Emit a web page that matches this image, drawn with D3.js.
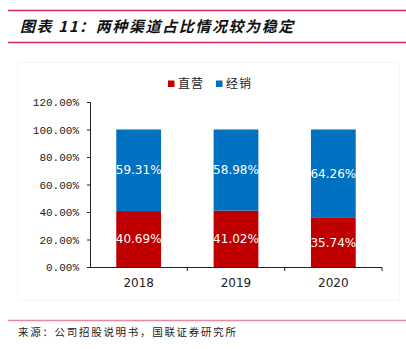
<!DOCTYPE html>
<html>
<head>
<meta charset="utf-8">
<script src="https://cdn.jsdelivr.net/npm/d3@7"></script>
<style>
  body { margin: 0; background: #fff; }
  svg text { font-family: "Noto Sans CJK SC", "DejaVu Sans", sans-serif; }
</style>
</head>
<body>
<div id="chart"></div>
<script>
// channel share by year
const years = ["2018", "2019", "2020"];
const direct = [40.69, 41.02, 35.74];
const dealer = [59.31, 58.98, 64.26];
const seriesNames = ["直营", "经销"];
const seriesColors = ["#C00000", "#0070C0"];
const yTicks = [0, 20, 40, 60, 80, 100, 120];

const W = 406, H = 349;
const svg = d3.select("#chart").append("svg")
    .attr("width", W).attr("height", H);

// header rules and title
svg.append("line").attr("x1", 8).attr("x2", W).attr("y1", 10.5).attr("y2", 10.5)
    .attr("stroke", "#D4245A").attr("stroke-width", 1.3);
svg.append("line").attr("x1", 8).attr("x2", W).attr("y1", 42.5).attr("y2", 42.5)
    .attr("stroke", "#D4245A").attr("stroke-width", 1.3);
svg.append("text")
    .attr("x", 20).attr("y", 31.5)
    .attr("font-size", 15).attr("font-weight", "bold").attr("font-style", "italic")
    .attr("fill", "#111")
    .style("letter-spacing", "1.6px")
    .text("图表 11：两种渠道占比情况较为稳定");

// faint chart frame
svg.append("rect").attr("x", 17.5).attr("y", 62.5).attr("width", 382).attr("height", 238)
    .attr("fill", "none").attr("stroke", "#f6f6f6");

const margin = {left: 90, right: 24, top: 102, bottom: 82};
const x = d3.scaleBand().domain(years).range([margin.left, W - margin.right]).paddingInner(0.54).paddingOuter(0.27);
const xOuter = d3.scaleBand().domain(years).range([margin.left, W - margin.right]);
const y = d3.scaleLinear().domain([0, 120]).range([H - margin.bottom, margin.top]);

const stacked = years.map((yr, i) => {
    return [
        {key: 0, y0: 0, y1: direct[i], year: yr},
        {key: 1, y0: direct[i], y1: direct[i] + dealer[i], year: yr}
    ];
}).flat();

svg.selectAll("rect.bar")
    .data(stacked)
    .enter().append("rect")
    .attr("class", "bar")
    .attr("x", d => x(d.year))
    .attr("width", x.bandwidth())
    .attr("y", d => y(d.y1))
    .attr("height", d => y(d.y0) - y(d.y1))
    .attr("fill", d => seriesColors[d.key]);

svg.selectAll("text.val")
    .data(stacked)
    .enter().append("text")
    .attr("class", "val")
    .attr("x", d => x(d.year) + x.bandwidth() / 2)
    .attr("y", d => y((d.y0 + d.y1) / 2))
    .attr("dy", "0.35em")
    .attr("text-anchor", "middle")
    .attr("font-size", 12)
    .attr("fill", "#fff")
    .style("font-family", "DejaVu Sans, sans-serif")
    .text(d => (d.y1 - d.y0).toFixed(2) + "%");

// y axis
const yAxis = d3.axisLeft(y).tickValues(yTicks).tickSize(3).tickFormat(d => d.toFixed(2) + "%");
const gy = svg.append("g").attr("transform", `translate(${margin.left},0)`).call(yAxis);
gy.select(".domain").attr("stroke", "#222");
gy.selectAll(".tick line").attr("stroke", "#222");
gy.selectAll(".tick text").attr("font-size", 11).attr("fill", "#222").attr("x", -11)
    .style("font-family", "Liberation Mono, DejaVu Sans Mono, monospace");

// x axis with ticks at category boundaries
const baseY = y(0);
svg.append("line").attr("x1", margin.left).attr("x2", W - margin.right)
    .attr("y1", baseY + 0.5).attr("y2", baseY + 0.5).attr("stroke", "#222");
svg.selectAll("line.xt")
    .data(years)
    .enter().append("line")
    .attr("class", "xt")
    .attr("x1", d => xOuter(d) + xOuter.bandwidth())
    .attr("x2", d => xOuter(d) + xOuter.bandwidth())
    .attr("y1", baseY).attr("y2", baseY + 4)
    .attr("stroke", "#222");
svg.selectAll("text.xl")
    .data(years)
    .enter().append("text")
    .attr("class", "xl")
    .attr("x", d => xOuter(d) + xOuter.bandwidth() / 2)
    .attr("y", baseY + 20)
    .attr("text-anchor", "middle")
    .attr("font-size", 12)
    .attr("fill", "#222")
    .style("font-family", "DejaVu Sans, sans-serif")
    .text(d => d);

// legend
const legendX = [168, 216];
seriesNames.forEach((name, i) => {
    svg.append("rect").attr("x", legendX[i]).attr("y", 80.5).attr("width", 6.5).attr("height", 6.5)
        .attr("fill", seriesColors[i]);
    svg.append("text").attr("x", legendX[i] + 10).attr("y", 88)
        .attr("font-size", 12).attr("fill", "#222")
        .style("letter-spacing", "1px")
        .text(name);
});

// footer
svg.append("line").attr("x1", 8).attr("x2", W).attr("y1", 320.5).attr("y2", 320.5)
    .attr("stroke", "#E58AA0").attr("stroke-width", 1.3);
svg.append("text").attr("x", 18).attr("y", 336)
    .attr("font-size", 10.5).attr("fill", "#222")
    .style("letter-spacing", "1.7px")
    .text("来源：公司招股说明书，国联证券研究所");
</script>
</body>
</html>
